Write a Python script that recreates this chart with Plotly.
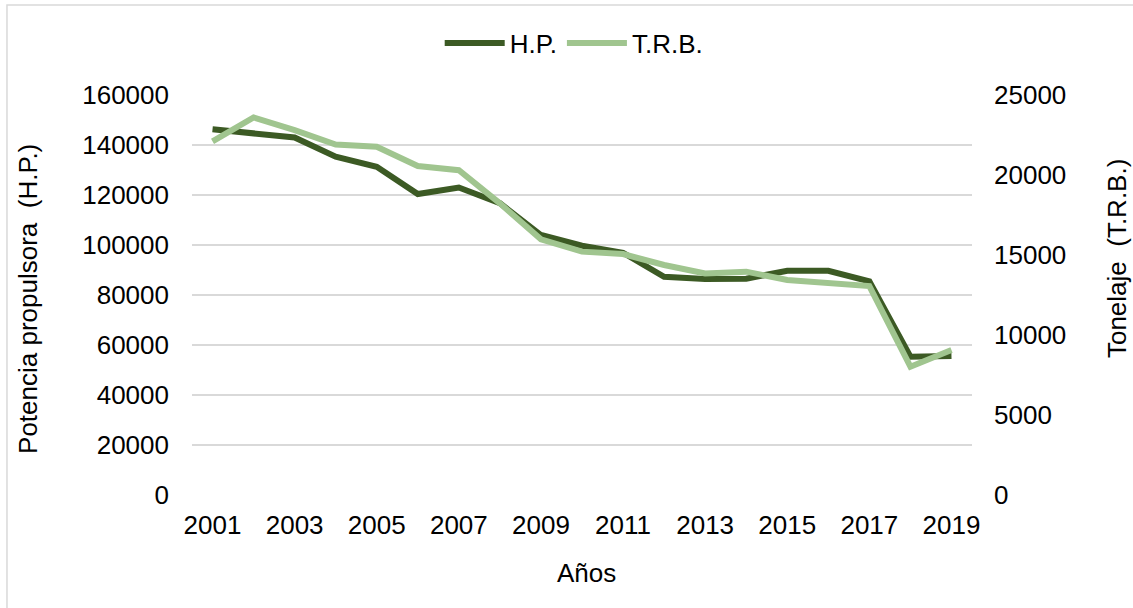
import plotly.graph_objects as go

years = [2001, 2002, 2003, 2004, 2005, 2006, 2007, 2008, 2009, 2010,
         2011, 2012, 2013, 2014, 2015, 2016, 2017, 2018, 2019]
hp = [146300, 144900, 143000, 135300, 131300, 120400, 123000, 116700, 104000, 99700,
      96900, 87300, 86400, 86500, 89700, 89700, 85500, 55300, 55600]
trb = [22100, 23600, 22800, 21900, 21770, 20560, 20300, 18230, 15980, 15210,
       15060, 14375, 13850, 13960, 13440, 13230, 13060, 8020, 9060]
x_ticks = [2001, 2003, 2005, 2007, 2009, 2011, 2013, 2015, 2017, 2019]

FONT = "Liberation Sans, Arial, sans-serif"
DARK = "#3C5A24"
LIGHT = "#A0C58F"
GRID = "#D9D9D9"

fig = go.Figure()
fig.add_trace(go.Scatter(x=years, y=hp, name="H.P.", mode="lines",
                         line=dict(color=DARK, width=6)))
fig.add_trace(go.Scatter(x=years, y=trb, name="T.R.B.", mode="lines", yaxis="y2",
                         line=dict(color=LIGHT, width=6)))

fig.update_layout(
    width=1133, height=608, autosize=False,
    margin=dict(l=192, r=161, t=95, b=113),
    paper_bgcolor="white", plot_bgcolor="white",
    font=dict(family=FONT, size=26, color="#000000"),
    showlegend=True,
    legend=dict(orientation="h", x=0.49, y=1.13, xanchor="center", yanchor="middle",
                font=dict(size=26), itemwidth=60, tracegroupgap=0),
    xaxis=dict(range=[2000.5, 2019.5], tickvals=x_ticks, showgrid=False,
               zeroline=False, showline=False, ticks="", ticklabelstandoff=12,
               tickformat="d", tickfont=dict(size=26)),
    yaxis=dict(range=[0, 160000], dtick=20000, showgrid=True, gridcolor=GRID,
               gridwidth=1.5, zeroline=False, showline=False, ticks="",
               tickformat="d", ticklabelstandoff=22, tickfont=dict(size=26)),
    yaxis2=dict(range=[0, 25000], dtick=5000, overlaying="y", side="right",
                showgrid=False, zeroline=False, showline=False, ticks="",
                tickformat="d", ticklabelstandoff=21, tickfont=dict(size=26)),
    annotations=[
        dict(text="Años", xref="paper", yref="paper", x=0.5064, y=-0.195,
             xanchor="center", yanchor="middle", showarrow=False, font=dict(size=26)),
        dict(text="Potencia propulsora  (H.P.)", xref="paper", yref="paper", x=-0.2103, y=0.49,
             xanchor="center", yanchor="middle", textangle=-90, showarrow=False,
             font=dict(size=26)),
        dict(text="Tonelaje  (T.R.B.)", xref="paper", yref="paper", x=1.186, y=0.59,
             xanchor="center", yanchor="middle", textangle=-90, showarrow=False,
             font=dict(size=26)),
    ],
    shapes=[
        dict(type="rect", xref="paper", yref="paper", x0=-0.2372, x1=1.23,
             y0=-0.30, y1=1.225, line=dict(color=GRID, width=1.5), layer="below"),
    ],
)

fig.write_html("out.html", config={"displayModeBar": False},
               post_script="document.body.style.margin='0';document.body.style.overflow='hidden';")
